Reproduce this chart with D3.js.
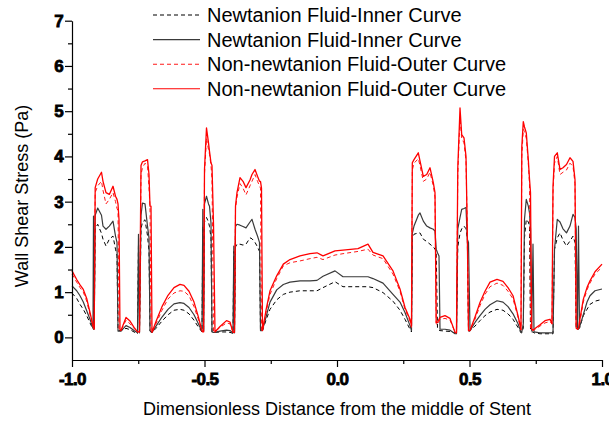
<!DOCTYPE html>
<html>
<head>
<meta charset="utf-8">
<script src="https://cdn.jsdelivr.net/npm/d3@7"></script>
<style>
  html, body { margin: 0; padding: 0; background: #fff; }
  svg { display: block; }
  .tick-label { font-family: "Liberation Sans", Arial, sans-serif; font-weight: bold; font-size: 17px; letter-spacing: -0.6px; fill: #000; stroke: #000; stroke-width: 0.8px; }
  .title { font-family: "Liberation Sans", Arial, sans-serif; font-size: 18px; fill: #000; }
  .legend-text { font-family: "Liberation Sans", Arial, sans-serif; font-size: 20px; fill: #000; }
</style>
</head>
<body>
<svg id="chart" width="609" height="425"></svg>
<script>
// Dimensionless distance along the stent (shared abscissa for all series)
const distance = [
  -1.0000, -0.9823, -0.9698, -0.9574, -0.9445, -0.9321, -0.9208, -0.9189, -0.9162, -0.9125,
  -0.9030, -0.8887, -0.8830, -0.8717, -0.8592, -0.8453, -0.8358, -0.8302, -0.8264, -0.8226,
  -0.8189, -0.8151, -0.7962, -0.7811, -0.7660, -0.7528, -0.7491, -0.7453, -0.7396, -0.7340,
  -0.7245, -0.7151, -0.7094, -0.7057, -0.7019, -0.6981, -0.6830, -0.6604, -0.6377, -0.6151,
  -0.5925, -0.5774, -0.5585, -0.5396, -0.5245, -0.5094, -0.5064, -0.5034, -0.5000, -0.4925,
  -0.4849, -0.4811, -0.4755, -0.4717, -0.4660, -0.4604, -0.4415, -0.4170, -0.4038, -0.3925,
  -0.3894, -0.3868, -0.3830, -0.3774, -0.3660, -0.3547, -0.3434, -0.3283, -0.3208, -0.3094,
  -0.3000, -0.2925, -0.2887, -0.2849, -0.2811, -0.2679, -0.2528, -0.2275, -0.2026, -0.1774,
  -0.1396, -0.1019, -0.0755, -0.0528, -0.0075, 0.0226, 0.0792, 0.1170, 0.1358, 0.1736,
  0.2113, 0.2377, 0.2566, 0.2755, 0.2811, 0.2842, 0.2906, 0.3068, 0.3132, 0.3257,
  0.3385, 0.3509, 0.3634, 0.3698, 0.3743, 0.3792, 0.3849, 0.3887, 0.4075, 0.4264,
  0.4453, 0.4509, 0.4558, 0.4642, 0.4706, 0.4792, 0.4868, 0.4917, 0.4962, 0.5019,
  0.5208, 0.5396, 0.5585, 0.5774, 0.6038, 0.6264, 0.6453, 0.6642, 0.6830, 0.6943,
  0.6974, 0.7030, 0.7075, 0.7143, 0.7219, 0.7264, 0.7302, 0.7347, 0.7396, 0.7434,
  0.7660, 0.7849, 0.8038, 0.8113, 0.8151, 0.8208, 0.8313, 0.8415, 0.8528, 0.8660,
  0.8792, 0.8906, 0.8981, 0.9026, 0.9075, 0.9113, 0.9151, 0.9294, 0.9434, 0.9547,
  0.9736, 1.0000
];

// Wall shear stress (Pa), Newtonian fluid, dashed curve
const newtonianDashed = [
  0.98, 0.86, 0.73, 0.62, 0.48, 0.32, 0.18, 0.18, 0.18, 2.40,
  2.50, 2.30, 2.17, 2.02, 2.17, 2.24, 1.95, 1.80, 0.15, 0.15,
  0.15, 0.15, 0.20, 0.17, 0.12, 0.08, 2.10, 0.10, 2.40, 2.55,
  2.60, 2.25, 1.90, 0.15, 0.12, 0.11, 0.20, 0.36, 0.50, 0.60,
  0.62, 0.60, 0.52, 0.38, 0.24, 0.12, 2.45, 0.12, 2.55, 2.65,
  2.55, 2.45, 2.20, 0.12, 0.11, 0.11, 0.12, 0.12, 0.11, 0.09,
  1.90, 0.10, 2.00, 2.06, 2.06, 2.04, 2.06, 2.20, 2.18, 2.10,
  2.00, 1.90, 0.15, 0.15, 0.15, 0.38, 0.62, 0.83, 0.95, 1.00,
  1.03, 1.03, 1.03, 1.10, 1.23, 1.12, 1.12, 1.12, 1.10, 0.99,
  0.80, 0.60, 0.40, 0.18, 0.12, 2.20, 2.28, 2.31, 2.31, 2.17,
  2.12, 2.06, 2.00, 1.95, 1.90, 0.20, 0.16, 0.15, 0.14, 0.13,
  0.10, 0.10, 2.00, 2.30, 2.40, 2.46, 2.40, 2.20, 0.14, 0.14,
  0.25, 0.37, 0.48, 0.56, 0.62, 0.60, 0.52, 0.40, 0.22, 0.10,
  0.10, 0.20, 2.20, 2.61, 2.55, 2.46, 0.15, 0.12, 0.12, 0.10,
  0.08, 0.08, 0.08, 0.08, 0.08, 1.95, 2.20, 2.31, 2.15, 2.02,
  2.13, 2.24, 2.10, 0.20, 0.18, 0.18, 0.20, 0.48, 0.62, 0.73,
  0.80, 0.84
];

// Wall shear stress (Pa), Newtonian fluid, solid curve
const newtonianSolid = [
  1.14, 1.03, 0.92, 0.78, 0.59, 0.40, 0.20, 2.68, 0.22, 2.70,
  2.86, 2.70, 2.46, 2.39, 2.46, 2.57, 2.24, 2.10, 0.14, 0.14,
  0.14, 0.14, 0.26, 0.22, 0.15, 0.10, 2.28, 0.10, 2.70, 2.97,
  2.95, 2.46, 2.20, 0.15, 0.12, 0.11, 0.25, 0.45, 0.62, 0.74,
  0.77, 0.75, 0.66, 0.50, 0.32, 0.13, 2.83, 0.13, 2.95, 3.12,
  2.95, 2.90, 2.53, 0.12, 0.11, 0.11, 0.14, 0.16, 0.15, 0.10,
  2.02, 0.10, 2.45, 2.50, 2.48, 2.45, 2.42, 2.55, 2.61, 2.39,
  2.24, 2.10, 0.15, 0.15, 0.16, 0.45, 0.78, 1.05, 1.17, 1.22,
  1.25, 1.25, 1.26, 1.35, 1.47, 1.34, 1.34, 1.34, 1.30, 1.20,
  0.95, 0.78, 0.55, 0.26, 0.15, 2.30, 2.46, 2.70, 2.75, 2.57,
  2.46, 2.42, 2.39, 2.35, 1.95, 1.87, 1.80, 0.18, 0.18, 0.16,
  0.08, 0.08, 2.40, 2.65, 2.83, 2.85, 2.87, 2.17, 2.10, 0.15,
  0.33, 0.48, 0.62, 0.72, 0.81, 0.78, 0.68, 0.52, 0.30, 0.12,
  0.12, 0.30, 2.61, 3.05, 2.90, 2.75, 2.40, 0.15, 2.06, 0.12,
  0.10, 0.10, 0.10, 0.10, 0.10, 1.95, 2.61, 2.55, 2.40, 2.31,
  2.46, 2.72, 2.65, 2.40, 0.20, 2.46, 0.22, 0.50, 0.78, 0.92,
  1.03, 1.07
];

// Wall shear stress (Pa), non-Newtonian fluid, dashed curve
const nonNewtonianDashed = [
  1.40, 1.22, 1.10, 1.00, 0.80, 0.50, 0.24, 0.22, 0.20, 3.20,
  3.35, 3.45, 3.25, 2.95, 3.05, 3.20, 3.00, 2.85, 2.80, 0.20,
  0.16, 0.15, 0.38, 0.30, 0.20, 0.12, 0.12, 0.12, 3.60, 3.75,
  3.85, 3.80, 3.30, 2.90, 0.15, 0.11, 0.30, 0.60, 0.85, 0.98,
  1.03, 1.02, 0.92, 0.68, 0.42, 0.15, 0.13, 0.13, 3.60, 4.40,
  4.15, 4.05, 3.80, 3.50, 0.14, 0.13, 0.22, 0.32, 0.30, 0.12,
  0.11, 0.11, 2.85, 3.10, 3.40, 3.30, 3.15, 3.35, 3.45, 3.60,
  3.45, 3.35, 3.30, 0.15, 0.15, 0.55, 0.95, 1.30, 1.58, 1.65,
  1.69, 1.74, 1.77, 1.72, 1.82, 1.85, 1.90, 1.95, 1.82, 1.74,
  1.40, 1.02, 0.62, 0.36, 0.22, 3.70, 3.85, 3.95, 3.80, 3.45,
  3.50, 3.65, 3.35, 3.10, 0.30, 0.28, 0.35, 0.40, 0.42, 0.38,
  0.12, 0.11, 3.60, 4.85, 4.40, 4.30, 3.90, 2.40, 0.15, 0.15,
  0.40, 0.70, 0.95, 1.12, 1.20, 1.15, 1.02, 0.85, 0.45, 0.16,
  4.00, 4.60, 4.55, 4.40, 3.85, 3.40, 0.20, 0.15, 0.15, 0.16,
  0.25, 0.32, 0.35, 0.30, 3.20, 3.85, 4.00, 3.60, 3.65, 3.70,
  3.85, 3.78, 3.40, 0.20, 0.18, 0.20, 0.30, 0.78, 1.05, 1.20,
  1.40, 1.55
];

// Wall shear stress (Pa), non-Newtonian fluid, solid curve
const nonNewtonianSolid = [
  1.47, 1.28, 1.16, 1.06, 0.86, 0.55, 0.26, 0.22, 0.18, 3.31,
  3.50, 3.65, 3.45, 3.20, 3.16, 3.34, 3.12, 3.05, 2.95, 2.60,
  0.17, 0.15, 0.44, 0.36, 0.22, 0.12, 0.12, 0.12, 3.80, 3.88,
  3.90, 3.93, 3.60, 2.90, 2.90, 0.11, 0.35, 0.68, 0.93, 1.10,
  1.17, 1.15, 1.02, 0.78, 0.48, 0.14, 0.12, 0.12, 3.71, 4.63,
  4.30, 4.11, 3.86, 3.80, 2.50, 0.12, 0.24, 0.37, 0.34, 0.11,
  0.11, 0.11, 2.90, 3.20, 3.53, 3.45, 3.31, 3.48, 3.60, 3.71,
  3.56, 3.45, 3.45, 3.30, 0.15, 0.60, 1.03, 1.36, 1.62, 1.72,
  1.80, 1.85, 1.87, 1.80, 1.91, 1.93, 1.96, 2.06, 1.88, 1.80,
  1.47, 1.07, 0.66, 0.40, 0.26, 3.86, 3.93, 4.08, 3.90, 3.56,
  3.60, 3.75, 3.42, 3.20, 0.33, 0.33, 0.40, 0.44, 0.48, 0.42,
  0.11, 0.10, 3.75, 5.07, 4.48, 4.41, 4.00, 2.31, 0.15, 0.15,
  0.45, 0.77, 1.02, 1.22, 1.28, 1.24, 1.10, 0.92, 0.48, 0.18,
  4.22, 4.77, 4.65, 4.52, 3.93, 3.50, 3.20, 0.18, 0.17, 0.18,
  0.28, 0.37, 0.40, 0.30, 3.34, 4.00, 4.08, 3.71, 3.75, 3.82,
  3.97, 3.89, 3.49, 0.20, 0.18, 0.20, 0.35, 0.84, 1.10, 1.25,
  1.45, 1.62
];

const seriesNames = [
  "Newtanion Fluid-Inner Curve",
  "Newtanion Fluid-Inner Curve",
  "Non-newtanion Fluid-Outer Curve",
  "Non-newtanion Fluid-Outer Curve"
];

const xMajorTicks = [-1.0, -0.5, 0.0, 0.5, 1.0];
const xMinorTicks = [-0.75, -0.25, 0.25, 0.75];
const yMajorTicks = [0, 1, 2, 3, 4, 5, 6, 7];
const yMinorTicks = [0.5, 1.5, 2.5, 3.5, 4.5, 5.5, 6.5];

const series = [
  { name: seriesNames[0], values: newtonianDashed,    color: "#000000", width: 1.0, dash: "4,3" },
  { name: seriesNames[1], values: newtonianSolid,     color: "#3a3a3a", width: 1.2, dash: null },
  { name: seriesNames[2], values: nonNewtonianDashed, color: "#ff1a1a", width: 1.0, dash: "4,3" },
  { name: seriesNames[3], values: nonNewtonianSolid,  color: "#ff0000", width: 1.3, dash: null }
];

const svg = d3.select("#chart");

const x = d3.scaleLinear().domain([-1, 1]).range([72, 602]);
const y = d3.scaleLinear().domain([-0.5, 7]).range([360, 20.7]);

// Curves
const line = d3.line()
  .x((d, i) => x(distance[i]))
  .y(d => y(d));

const curves = svg.append("g");
series.forEach(s => {
  curves.append("path")
    .datum(s.values)
    .attr("fill", "none")
    .attr("stroke", s.color)
    .attr("stroke-width", s.width)
    .attr("stroke-dasharray", s.dash)
    .attr("stroke-linejoin", "round")
    .attr("d", line);
});

// Y axis with major and minor ticks
const yAxis = svg.append("g").attr("transform", "translate(72,0)")
  .call(d3.axisLeft(y).tickValues(yMajorTicks).tickSize(7).tickSizeOuter(0).tickPadding(2).tickFormat(d3.format("d")));
svg.append("g").attr("transform", "translate(72,0)")
  .call(d3.axisLeft(y).tickValues(yMinorTicks).tickSize(4).tickFormat(""))
  .call(g => g.select(".domain").remove());

// X axis with major and minor ticks
const xAxis = svg.append("g").attr("transform", "translate(0,360)")
  .call(d3.axisBottom(x).tickValues(xMajorTicks).tickSize(7).tickSizeOuter(0).tickPadding(6).tickFormat(d => d.toFixed(1)));
svg.append("g").attr("transform", "translate(0,360)")
  .call(d3.axisBottom(x).tickValues(xMinorTicks).tickSize(4).tickFormat(""))
  .call(g => g.select(".domain").remove());

svg.selectAll(".domain, .tick line").attr("stroke", "#000").attr("stroke-width", 1.2);
[yAxis, xAxis].forEach(g => g.selectAll(".tick text").attr("class", "tick-label").attr("font-family", null).attr("font-size", null));

// Axis titles
svg.append("text").attr("class", "title")
  .attr("x", 337).attr("y", 415).attr("text-anchor", "middle")
  .text("Dimensionless Distance from the middle of Stent");
svg.append("text").attr("class", "title")
  .attr("transform", "translate(28,196) rotate(-90)").attr("text-anchor", "middle")
  .text("Wall Shear Stress (Pa)");

// Legend
const legend = svg.append("g").attr("transform", "translate(153,15)");
series.forEach((s, i) => {
  const row = legend.append("g").attr("transform", `translate(0,${i * 24.6})`);
  row.append("line").attr("x1", 0).attr("x2", 47).attr("y1", 0).attr("y2", 0)
    .attr("stroke", s.color).attr("stroke-width", 1.1).attr("stroke-dasharray", s.dash);
  row.append("text").attr("class", "legend-text").attr("x", 54).attr("y", 7).text(s.name);
});
</script>
</body>
</html>
